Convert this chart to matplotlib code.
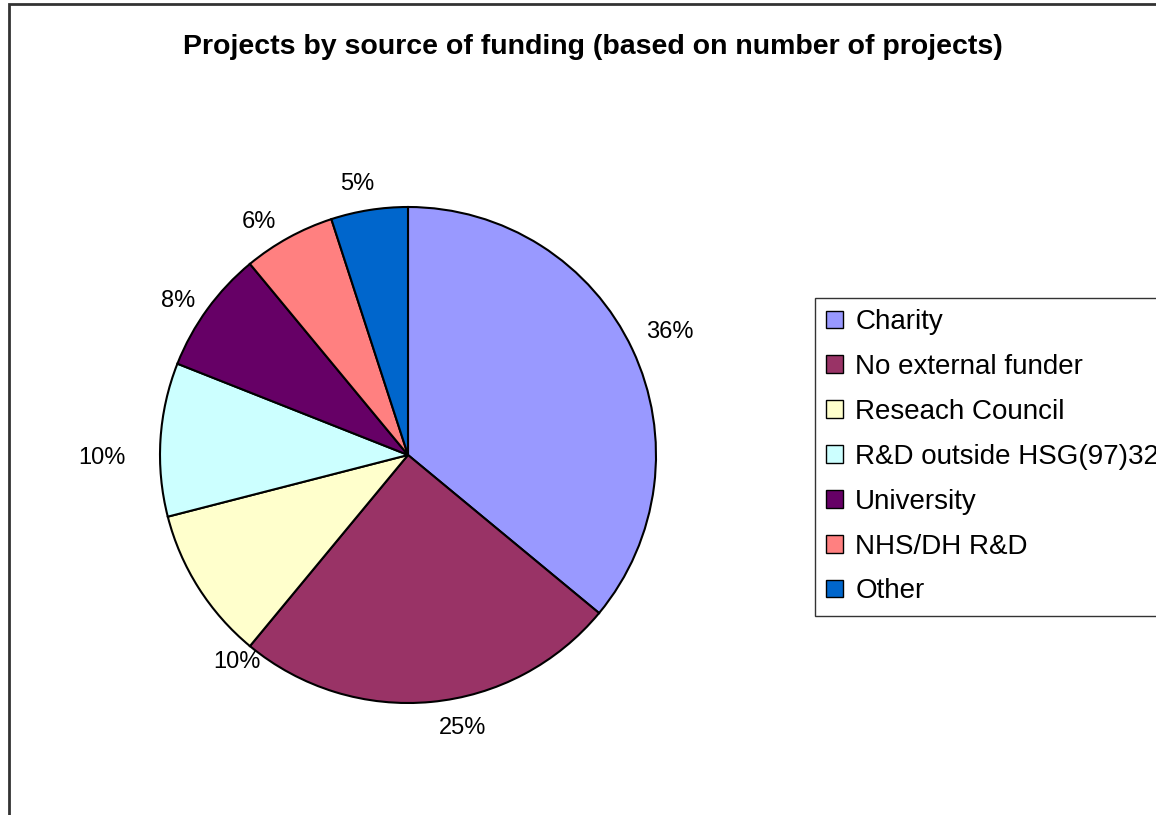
import numpy as np
import matplotlib
matplotlib.use("Agg")
import matplotlib.pyplot as plt
from matplotlib.patches import Rectangle

plt.rcParams["font.family"] = ["Liberation Sans", "DejaVu Sans"]

sources = [
    "Charity",
    "No external funder",
    "Reseach Council",
    "R&D outside HSG(97)32",
    "University",
    "NHS/DH R&D",
    "Other",
]
shares = [36, 25, 10, 10, 8, 6, 5]
colours = ["#9999FF", "#993366", "#FFFFCC", "#CCFFFF", "#660066", "#FF8080", "#0066CC"]
# extra shift of each percentage label, in pixels (x right, y up)
label_shift = [(0, 0), (30, 0), (75, -55), (-20, -20), (0, -12), (-5, -8), (-10, 0)]

W, H = 1156, 815
fig = plt.figure(figsize=(W / 100, H / 100), dpi=100)

# pie centre and radius in pixels
cx, cy, rad = 408, 455, 248
half = 320
ax = fig.add_axes([(cx - half) / W, (H - cy - half) / H, 2 * half / W, 2 * half / H])
ax.axis("off")

wedges, _ = ax.pie(
    shares,
    colors=colours,
    startangle=90,
    counterclock=False,
    radius=1,
    wedgeprops=dict(edgecolor="black", linewidth=1.5),
)
# pie() resets the limits, so set them afterwards
lim = half / rad
ax.set_xlim(-lim, lim)
ax.set_ylim(-lim, lim)
ax.set_aspect("equal")

# percentage labels sitting just outside each wedge
for w, v, (sx, sy) in zip(wedges, shares, label_shift):
    mid = np.deg2rad(0.5 * (w.theta1 + w.theta2))
    c, s = np.cos(mid), np.sin(mid)
    r = 1.06
    ha = "left" if c > 0.3 else ("right" if c < -0.3 else "center")
    va = "bottom" if s > 0.3 else ("top" if s < -0.3 else "center")
    ax.annotate(f"{v}%", (r * c, r * s), xytext=(sx * 0.72, sy * 0.72),
                textcoords="offset points", ha=ha, va=va, fontsize=17)

fig.text(593 / W, 1 - 47 / H,
         "Projects by source of funding (based on number of projects)",
         ha="center", va="center", fontsize=20.5, fontweight="bold")

# chart area border (runs off the right and bottom)
fig.patches.append(Rectangle((9 / W, -0.1), 1.2, 1.1 - 4 / H, transform=fig.transFigure,
                             fill=False, edgecolor="#333333", linewidth=2))

leg = fig.legend(
    wedges, sources,
    loc="upper left",
    bbox_to_anchor=(815 / W, 1 - 298 / H),
    frameon=True,
    fancybox=False,
    fontsize=20,
    handlelength=0.6,
    handleheight=0.6,
    handletextpad=0.45,
    labelspacing=0.68,
    borderpad=0.4,
    borderaxespad=0,
)
leg.get_frame().set_edgecolor("black")
leg.get_frame().set_linewidth(1.0)
for h in leg.legend_handles:
    h.set_linewidth(1.0)

fig.savefig("out.png", dpi=100)
